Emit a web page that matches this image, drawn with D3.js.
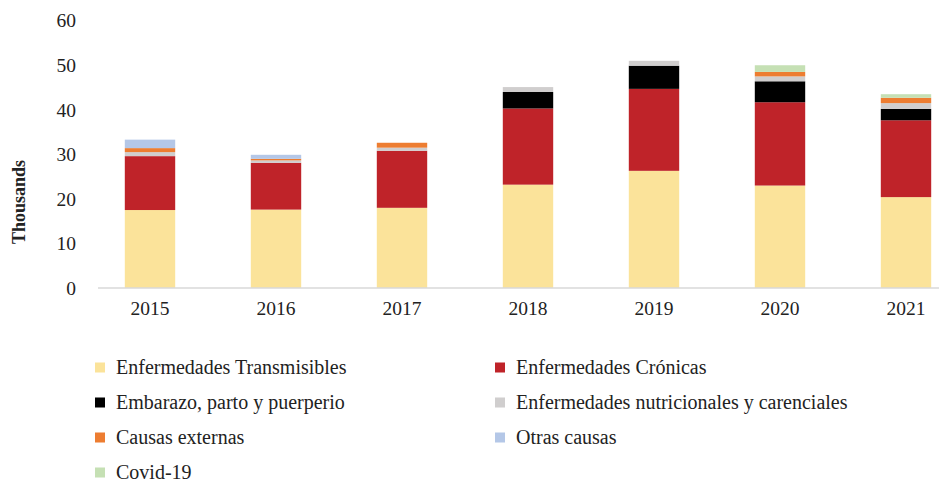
<!DOCTYPE html>
<html>
<head>
<meta charset="utf-8">
<script src="https://cdn.jsdelivr.net/npm/d3@7"></script>
<style>
  body { margin: 0; background: #fff; }
  text { font-family: "Liberation Serif", serif; fill: #222; }
</style>
</head>
<body>
<svg id="chart" width="939" height="482"></svg>
<script>
'use strict';

const years = ['2015', '2016', '2017', '2018', '2019', '2020', '2021'];
const seriesNames = [
  'Enfermedades Transmisibles',
  'Enfermedades Crónicas',
  'Embarazo, parto y puerperio',
  'Enfermedades nutricionales y carenciales',
  'Causas externas',
  'Otras causas',
  'Covid-19'
];
// thousands of cases
const transmisibles = [17.5, 17.6, 18.0, 23.2, 26.3, 23.0, 20.4];
const cronicas      = [12.1, 10.5, 12.8, 17.1, 18.4, 18.7, 17.25];
const embarazo      = [0, 0, 0, 3.7, 5.2, 4.7, 2.55];
const nutricionales = [0.9, 0.55, 0.7, 1.1, 1.1, 1.1, 1.3];
const externas      = [0.9, 0.35, 1.1, 0, 0, 1.0, 1.2];
const otras         = [1.9, 0.9, 0, 0, 0, 0, 0];
const covid         = [0, 0, 0, 0, 0, 1.5, 0.8];
const yTicks = [0, 10, 20, 30, 40, 50, 60];

const colors = ['#FBE39A', '#BF2329', '#000000', '#D0CECE', '#ED7D31', '#B4C7E7', '#C5E0B4'];

let seriesValues = [transmisibles, cronicas, embarazo, nutricionales, externas, otras, covid];

let rows = years.map(function(y, i) {
  let r = { year: y };
  seriesNames.forEach(function(s, k) { r[s] = seriesValues[k][i]; });
  return r;
});

let stack = d3.stack().keys(seriesNames);
let layers = stack(rows);

let svg = d3.select('#chart');

let x = d3.scaleBand()
  .domain(years)
  .range([87, 969])
  .paddingInner(0.6)
  .paddingOuter(0.3);

let y = d3.scaleLinear()
  .domain([0, 60])
  .range([288, 20.7]);

// bars
svg.append('g')
  .selectAll('g')
  .data(layers)
  .enter().append('g')
    .attr('fill', function(d, i) { return colors[i]; })
  .selectAll('rect')
  .data(function(d) { return d; })
  .enter().append('rect')
    .attr('x', function(d) { return x(d.data.year); })
    .attr('y', function(d) { return y(d[1]); })
    .attr('width', x.bandwidth())
    .attr('height', function(d) { return Math.max(0, y(d[0]) - y(d[1])); });

// baseline
svg.append('line')
  .attr('x1', 98).attr('x2', 939)
  .attr('y1', y(0)).attr('y2', y(0))
  .attr('stroke', '#d9d9d9')
  .attr('stroke-width', 1.5);

// y axis labels
let yAxis = d3.axisLeft(y).tickValues(yTicks).tickSize(0).tickPadding(0);
let gy = svg.append('g')
  .attr('transform', 'translate(76,0)')
  .call(yAxis);
gy.select('.domain').remove();
gy.selectAll('text')
  .style('font-family', '"Liberation Serif", serif')
  .style('font-size', '19.5px')
  .attr('fill', '#222');

// x axis labels
let xAxis = d3.axisBottom(x).tickSize(0).tickPadding(0);
let gx = svg.append('g')
  .attr('transform', 'translate(0,301)')
  .call(xAxis);
gx.select('.domain').remove();
gx.selectAll('text')
  .style('font-family', '"Liberation Serif", serif')
  .style('font-size', '19.5px')
  .attr('fill', '#222');

svg.append('text')
  .attr('transform', 'translate(25,202) rotate(-90)')
  .attr('text-anchor', 'middle')
  .style('font-size', '18px')
  .style('font-weight', 'bold')
  .text('Thousands');

// legend, two columns
let legend = svg.append('g')
  .selectAll('g')
  .data(seriesNames)
  .enter().append('g')
    .attr('transform', function(d, i) {
      let col = i % 2;
      let row = Math.floor(i / 2);
      return 'translate(' + (95 + col * 400) + ',' + (367.5 + row * 35) + ')';
    });

legend.append('rect')
  .attr('x', 0)
  .attr('y', -5)
  .attr('width', 10)
  .attr('height', 10)
  .attr('fill', function(d, i) { return colors[i]; });

legend.append('text')
  .attr('x', 21)
  .attr('dy', '0.33em')
  .style('font-size', '20px')
  .text(function(d) { return d; });
</script>
</body>
</html>
